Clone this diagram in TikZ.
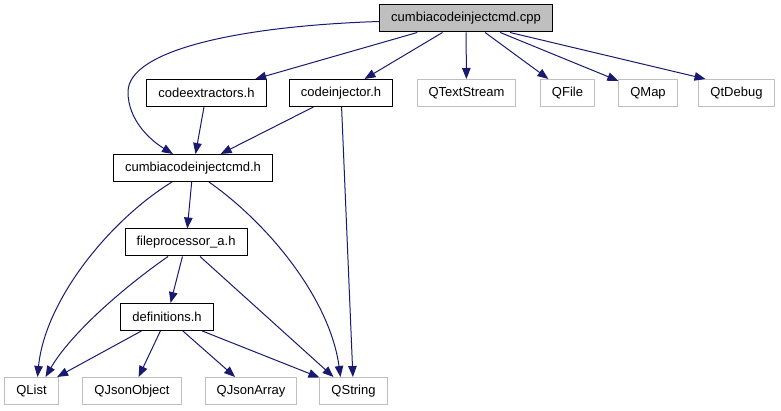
\documentclass[tikz,border=0pt]{standalone}
\usepackage{fontspec}
\setmainfont{Liberation Sans}
\definecolor{Edgecol}{HTML}{191970}
\definecolor{Extcol}{HTML}{BFBFBF}
\usetikzlibrary{arrows.meta}
\tikzset{
    >={Triangle[length=11pt, width=8.5pt]},
    font=\fontsize{13}{15}\selectfont,
    filebox/.style={draw=black, line width=1pt, inner xsep=11.5pt, minimum height=27pt, text=black},
    extbox/.style={filebox, draw=Extcol},
    rootbox/.style={filebox, fill=Extcol},
    incl/.style={->, Edgecol, line width=1pt}
}

\begin{document}
\begin{tikzpicture}[x=1pt, y=-1pt]
    \useasboundingbox (0,0) rectangle (781,411);

    % Root file
    \node[rootbox] (cpp) at (466, 18.5) {cumbiacodeinjectcmd.cpp};

    % First level of includes
    \node[filebox] (cext) at (206.5, 93) {codeextractors.h};
    \node[filebox] (cinj) at (341, 93) {codeinjector.h};
    \node[extbox] (qts) at (466.5, 93) {QTextStream};
    \node[extbox] (qfile) at (567.5, 93) {QFile};
    \node[extbox] (qmap) at (648, 93) {QMap};
    \node[extbox] (qdbg) at (736.5, 93) {QtDebug};

    % Headers
    \node[filebox] (cmdh) at (193, 168) {cumbiacodeinjectcmd.h};
    \node[filebox] (fproc) at (186, 242.5) {fileprocessor\_a.h};
    \node[filebox] (defs) at (167, 317) {definitions.h};

    % Qt classes at the bottom
    \node[extbox] (qlist) at (31.5, 391) {QList};
    \node[extbox] (qjobj) at (132, 391) {QJsonObject};
    \node[extbox] (qjarr) at (251, 391) {QJsonArray};
    \node[extbox] (qstr) at (353.5, 391) {QString};

    % Edges from the root
    \draw[incl] ([yshift=-3pt]cpp.west) .. controls (240, 26) and (128, 50) .. (128, 92)
        .. controls (128, 120) and (150, 140) .. ([xshift=-20pt]cmdh.north);
    \draw[incl] (cpp) -- (cext);
    \draw[incl] (cpp) -- (cinj);
    \draw[incl] (cpp) -- (qts);
    \draw[incl] (cpp) -- (qfile);
    \draw[incl] (cpp) -- (qmap);
    \draw[incl] ([xshift=44pt]cpp.south) -- ([xshift=-31pt]qdbg.north);

    % Edges into cumbiacodeinjectcmd.h
    \draw[incl] (cext) -- (cmdh);
    \draw[incl] (cinj) -- (cmdh);
    \draw[incl] (cinj) -- (qstr);

    % Edges from cumbiacodeinjectcmd.h
    \draw[incl] ([xshift=-21pt]cmdh.south) .. controls (110, 220) and (45, 300) .. ([xshift=6pt]qlist.north);
    \draw[incl] (cmdh) -- (fproc);
    \draw[incl] ([xshift=16pt]cmdh.south) .. controls (270, 225) and (330, 300) .. ([xshift=-13pt]qstr.north);

    % Edges from fileprocessor_a.h
    \draw[incl] ([xshift=-18pt]fproc.south) .. controls (120, 290) and (70, 335) .. ([xshift=14pt]qlist.north);
    \draw[incl] (fproc) -- (defs);
    \draw[incl] ([xshift=14pt]fproc.south) -- ([xshift=-20pt]qstr.north);

    % Edges from definitions.h
    \draw[incl] (defs) -- (qlist);
    \draw[incl] (defs) -- (qjobj);
    \draw[incl] (defs) -- (qjarr);
    \draw[incl] (defs) -- (qstr);
\end{tikzpicture}
\end{document}
